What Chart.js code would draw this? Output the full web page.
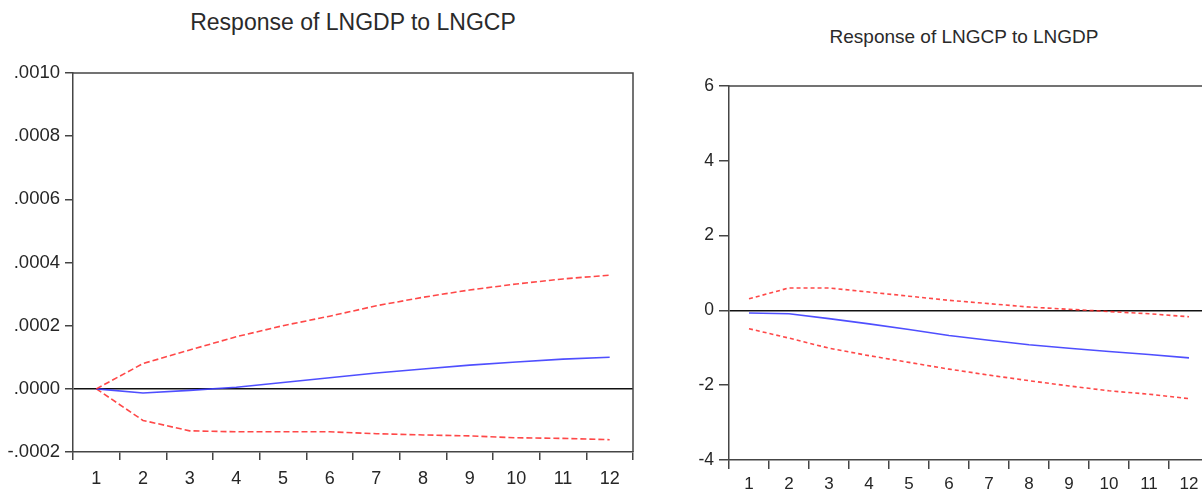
<!DOCTYPE html>
<html>
<head>
<meta charset="utf-8">
<script src="https://cdn.jsdelivr.net/npm/chart.js@4/dist/chart.umd.min.js"></script>
<style>
  html, body { margin: 0; padding: 0; width: 1202px; height: 497px; overflow: hidden; background: #fff; }
  .panel { position: absolute; top: 0; }
  .title { position: absolute; font-family: "Liberation Sans", Arial, sans-serif; color: #2a2a2a; white-space: nowrap; transform: translate(-50%, -50%); }
</style>
</head>
<body>
<div class="title" id="t1" style="left:353px; top:22px; font-size:23px;">Response of LNGDP to LNGCP</div>
<div class="title" id="t2" style="left:964px; top:37px; font-size:19px;">Response of LNGCP to LNGDP</div>
<div class="panel" style="left:0; width:650px; height:497px;"><canvas id="c1" width="650" height="497"></canvas></div>
<div class="panel" style="left:650px; width:570px; height:497px;"><canvas id="c2" width="570" height="497"></canvas></div>
<script>
// Forecast periods
const periods = ['1','2','3','4','5','6','7','8','9','10','11','12'];

// Response of LNGDP to a LNGCP shock, with +/- 2 S.E. bands
const gdpResponse = [0, -0.000013, -0.000005, 0.000005, 0.00002, 0.000035, 0.00005, 0.000063, 0.000075, 0.000085, 0.000094, 0.0001];
const gdpUpper    = [0, 0.00008, 0.000123, 0.000165, 0.0002, 0.00023, 0.000263, 0.00029, 0.000313, 0.000332, 0.000348, 0.00036];
const gdpLower    = [0, -0.0001, -0.000133, -0.000136, -0.000136, -0.000136, -0.000142, -0.000146, -0.000149, -0.000155, -0.000157, -0.000161];

// Response of LNGCP to a LNGDP shock, with +/- 2 S.E. bands
const gcpResponse = [-0.07, -0.09, -0.22, -0.36, -0.51, -0.67, -0.8, -0.92, -1.01, -1.1, -1.18, -1.27];
const gcpUpper    = [0.31, 0.6, 0.6, 0.49, 0.38, 0.27, 0.18, 0.09, 0.03, -0.03, -0.09, -0.17];
const gcpLower    = [-0.49, -0.74, -1.01, -1.21, -1.39, -1.57, -1.73, -1.88, -2.02, -2.15, -2.24, -2.36];

// Axis ranges and tick steps
const gdpTicks = { min: -0.0002, max: 0.0010, step: 0.0002 };
const gcpTicks = { min: -4, max: 6, step: 2 };

const AXIS = '#454545';
const TEXT = '#262626';
const RED = 'rgba(255,40,40,0.85)';
const BLUE = 'rgba(60,60,255,0.9)';

// Draws the box around the plotting area (top and right edges)
const framePlugin = {
  id: 'frame',
  afterDraw(chart) {
    const a = chart.chartArea, ctx = chart.ctx;
    ctx.save();
    ctx.strokeStyle = AXIS;
    ctx.lineWidth = 1.5;
    ctx.beginPath();
    ctx.moveTo(a.left, a.top);
    ctx.lineTo(a.right, a.top);
    ctx.lineTo(a.right, a.bottom);
    ctx.stroke();
    ctx.restore();
  }
};

function fmtGdp(v) {
  const s = (Math.round(v * 1e4) / 1e4).toFixed(4);
  return s.replace(/^(-?)0\./, '$1.');
}

function makeChart(id, cfg) {
  const isZero = v => Math.abs(v) < cfg.step * 1e-6;
  return new Chart(document.getElementById(id), {
    type: 'line',
    data: {
      labels: periods,
      datasets: [
        { data: cfg.upper, borderColor: RED, borderWidth: 1.6, borderDash: cfg.dash, pointRadius: 0, tension: 0 },
        { data: cfg.resp, borderColor: BLUE, borderWidth: 1.6, pointRadius: 0, tension: 0 },
        { data: cfg.lower, borderColor: RED, borderWidth: 1.6, borderDash: cfg.dash, pointRadius: 0, tension: 0 }
      ]
    },
    options: {
      responsive: false,
      animation: false,
      events: [],
      layout: { padding: cfg.padding },
      plugins: { legend: { display: false }, tooltip: { enabled: false }, title: { display: false } },
      scales: {
        x: {
          type: 'category',
          offset: true,
          grid: { offset: true, drawOnChartArea: false, drawTicks: true, tickLength: cfg.xTick, color: AXIS, lineWidth: 1.5 },
          border: { display: true, color: AXIS, width: 1.5 },
          ticks: { color: TEXT, font: { family: 'Liberation Sans', size: cfg.xFont }, padding: cfg.xPad, maxRotation: 0, autoSkip: false },
          afterFit(s) { s.height = cfg.xHeight; }
        },
        y: {
          min: cfg.min, max: cfg.max,
          grid: {
            drawOnChartArea: true, drawTicks: true, tickLength: cfg.yTick,
            color: c => (c.tick && isZero(c.tick.value)) ? '#111' : 'rgba(0,0,0,0)',
            tickColor: AXIS, lineWidth: 1.5
          },
          border: { display: true, color: AXIS, width: 1.5 },
          ticks: {
            stepSize: cfg.step, color: TEXT, padding: 5,
            font: { family: 'Liberation Sans', size: cfg.yFont },
            callback: cfg.fmt
          },
          afterFit(s) { s.width = cfg.yWidth; }
        }
      }
    },
    plugins: [framePlugin]
  });
}

makeChart('c1', {
  upper: gdpUpper, resp: gdpResponse, lower: gdpLower,
  min: gdpTicks.min, max: gdpTicks.max, step: gdpTicks.step,
  fmt: v => fmtGdp(v), dash: [6, 3],
  padding: { top: 73, right: 17, bottom: 0, left: 0 },
  yWidth: 73, xHeight: 45, xFont: 18, yFont: 18.5, xPad: 8, xTick: 8, yTick: 8
});

makeChart('c2', {
  upper: gcpUpper, resp: gcpResponse, lower: gcpLower,
  min: gcpTicks.min, max: gcpTicks.max, step: gcpTicks.step,
  fmt: v => String(Math.round(v)), dash: [4, 3],
  padding: { top: 86, right: 11, bottom: 0, left: 0 },
  yWidth: 79, xHeight: 37, xFont: 17, yFont: 17.5, xPad: 5, xTick: 9, yTick: 10
});
</script>
</body>
</html>
